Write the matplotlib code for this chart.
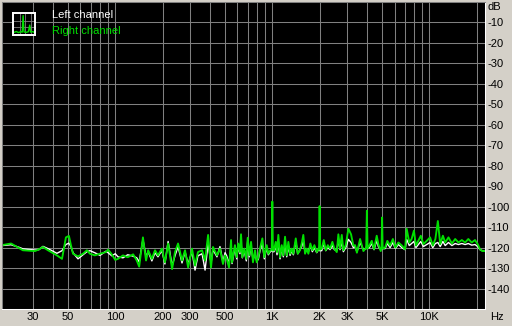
import matplotlib
matplotlib.use("Agg")
import matplotlib.pyplot as plt

plt.rcParams["font.family"] = ["Liberation Sans", "DejaVu Sans"]

# frequency points (Hz) and levels (dB)
freq = [19, 21.7, 24.7, 25.8, 30.8, 32.7, 34.6, 37.3, 42.5, 45.8,
        48.5, 50.7, 52.2, 53.8, 57.9, 62.3, 66, 69, 74, 80,
        87, 90, 95, 100, 104, 112, 120, 130, 137, 142,
        150, 157, 162, 171, 179, 187, 198, 207, 217, 230,
        240, 251, 266, 278, 291, 308, 322, 336, 357, 373,
        390, 407, 419, 444, 464, 485, 500, 512, 530, 546,
        554, 578, 593, 607, 622, 632, 644, 663, 683, 697,
        714, 732, 753, 776, 795, 814, 835, 864, 889, 921,
        943, 971, 992, 1000, 1008, 1025, 1051, 1071, 1092, 1120,
        1148, 1175, 1205, 1235, 1265, 1297, 1329, 1361, 1410, 1451,
        1500, 1538, 1575, 1616, 1656, 1696, 1746, 1798, 1852, 1918,
        1963, 1985, 2000, 2015, 2064, 2126, 2189, 2255, 2331, 2412,
        2484, 2573, 2633, 2699, 2768, 2833, 2934, 3050, 3171, 3281,
        3364, 3455, 3620, 3800, 3960, 4000, 4040, 4148, 4297, 4442,
        4621, 4732, 4899, 4960, 5000, 5040, 5221, 5398, 5618, 5857,
        6069, 6346, 6679, 7000, 7169, 7445, 7708, 7972, 8210, 8502,
        8817, 9160, 9626, 10100, 10510, 10920, 11320, 11720, 12190, 12610,
        13230, 13910, 14600, 15310, 16090, 16880, 17700, 18600, 19520, 20300,
        21000, 21730, 22600]

right_db = [-118.8, -118.0, -120.5, -121.3, -121.7, -120.8, -119.7, -121.3, -123.8, -125.5,
            -115.0, -114.3, -118.8, -123.0, -124.3, -123.0, -121.3, -123.0, -123.8, -123.0,
            -122.2, -121.0, -123.3, -126.0, -125.5, -123.8, -124.7, -123.3, -126.3, -129.3,
            -115.0, -126.3, -121.3, -125.5, -121.3, -123.8, -120.5, -127.2, -118.0, -130.5,
            -122.2, -118.0, -126.3, -121.3, -129.7, -120.5, -128.8, -122.2, -121.3, -126.3,
            -113.8, -129.7, -119.7, -123.8, -120.5, -128.0, -123.8, -125.5, -129.7, -116.3,
            -127.2, -118.8, -124.7, -118.0, -122.2, -113.5, -124.7, -120.5, -125.5, -115.2,
            -123.8, -117.2, -127.2, -121.3, -127.2, -124.7, -120.5, -115.5, -124.7, -118.8,
            -123.0, -121.3, -121.0, -97.5, -121.5, -121.3, -117.2, -122.2, -113.8, -124.7,
            -118.8, -123.8, -114.7, -123.8, -117.2, -123.0, -120.5, -123.0, -115.5, -123.0,
            -121.3, -118.0, -113.8, -123.0, -120.5, -123.0, -118.0, -121.3, -118.8, -122.2,
            -120.5, -121.0, -99.7, -121.0, -120.5, -116.3, -121.3, -118.8, -120.5, -117.2,
            -120.5, -122.2, -113.5, -120.5, -113.8, -121.3, -118.8, -110.8, -113.5, -119.0,
            -118.8, -122.5, -115.8, -121.7, -120.0, -102.0, -120.5, -119.0, -116.7, -120.8,
            -114.2, -118.3, -121.7, -120.0, -105.3, -120.5, -120.0, -116.7, -119.0, -115.8,
            -120.0, -117.5, -119.0, -120.8, -110.8, -117.5, -115.8, -111.7, -119.0, -116.7,
            -114.2, -118.3, -116.7, -115.0, -119.0, -115.8, -107.0, -118.3, -114.2, -117.5,
            -115.0, -118.0, -115.8, -117.5, -116.3, -117.5, -115.8, -117.5, -116.3, -118.3,
            -120.8, -121.7, -121.7]

left_db = [-119.0, -118.6, -120.0, -120.6, -121.2, -121.0, -119.4, -120.5, -122.8, -121.5,
           -118.5, -117.8, -119.5, -122.5, -125.5, -123.5, -122.0, -121.5, -122.5, -123.8,
           -121.8, -122.5, -124.0, -123.0, -124.5, -125.0, -123.5, -124.2, -125.0, -127.0,
           -116.0, -124.5, -122.0, -126.5, -122.5, -124.5, -121.5, -128.0, -117.0, -129.0,
           -124.0, -119.5, -127.5, -122.0, -128.0, -122.0, -131.0, -124.0, -123.0, -131.0,
           -118.0, -127.5, -121.0, -124.5, -119.5, -127.0, -122.5, -124.0, -128.0, -119.0,
           -127.8, -120.0, -125.5, -119.5, -123.0, -117.5, -125.0, -121.5, -126.5, -116.5,
           -124.5, -119.0, -126.0, -123.0, -126.5, -125.8, -121.5, -118.0, -125.5, -120.0,
           -123.5, -122.0, -121.5, -119.0, -122.0, -122.0, -119.0, -123.5, -117.0, -125.5,
           -120.0, -124.5, -117.5, -124.5, -119.5, -123.8, -121.5, -123.5, -117.0, -123.0,
           -121.0, -119.5, -116.5, -122.5, -121.0, -122.0, -119.0, -122.0, -120.0, -122.5,
           -121.0, -121.5, -119.0, -121.5, -121.5, -118.0, -121.5, -120.0, -121.0, -119.0,
           -121.0, -121.5, -116.0, -121.0, -117.0, -122.0, -120.0, -116.0, -117.5, -120.0,
           -119.5, -122.0, -117.5, -121.0, -120.5, -118.0, -120.5, -120.0, -118.0, -121.0,
           -116.5, -119.5, -121.0, -120.5, -118.5, -120.5, -120.5, -118.0, -120.0, -117.5,
           -120.5, -118.5, -120.0, -121.0, -116.0, -119.0, -118.0, -117.0, -120.0, -118.5,
           -117.0, -119.5, -118.5, -117.5, -120.0, -118.0, -117.5, -119.5, -117.0, -119.0,
           -117.5, -119.0, -118.0, -118.5, -118.0, -118.5, -118.0, -118.8, -118.5, -119.5,
           -121.0, -121.5, -121.8]

grid_freqs = [30, 40, 50, 60, 70, 80, 90, 100, 200, 300, 400, 500, 600, 700, 800, 900,
              1000, 2000, 3000, 4000, 5000, 6000, 7000, 8000, 9000, 10000, 20000]
x_labels = {30: "30", 50: "50", 100: "100", 200: "200", 300: "300", 500: "500",
            1000: "1K", 2000: "2K", 3000: "3K", 5000: "5K", 10000: "10K"}
y_ticks = list(range(-140, 0, 10))

# small legend icon trace
icon_x = [0.5, 1.5, 2.5, 3.5, 4.2, 4.6, 5.0, 6.0, 7.0, 7.6, 8.0, 9.0, 9.5]
icon_y = [1.2, 1.6, 1.1, 1.5, 1.3, 8.8, 1.4, 1.2, 1.5, 4.5, 1.3, 1.6, 1.2]

bg = "#d4d0c8"
fs = 8
fig = plt.figure(figsize=(5.12, 3.26), dpi=100, facecolor=bg)
ax = fig.add_axes([2 / 512, 17 / 326, 483 / 512, 307 / 326])
ax.set_facecolor("black")

ax.plot(freq, left_db, color="white", lw=1.0)
ax.plot(freq, right_db, color="#00e000", lw=1.35)

ax.set_xscale("log")
ax.set_xlim(19, 22600)
ax.set_ylim(-150, 0)

ax.set_xticks(grid_freqs)
ax.set_xticklabels([x_labels.get(f, "") for f in grid_freqs])
ax.xaxis.set_minor_locator(matplotlib.ticker.NullLocator())
ax.set_yticks(y_ticks)
ax.set_yticklabels([str(v) for v in y_ticks])
ax.yaxis.tick_right()
ax.tick_params(axis="both", length=0, labelsize=fs, colors="black")
ax.tick_params(axis="x", pad=2.5)
ax.tick_params(axis="y", pad=1.5)
for lab in ax.get_yticklabels():
    lab.set_horizontalalignment("left")
ax.grid(True, color="#808080", lw=0.75)
ax.set_axisbelow(True)

ax.spines["left"].set_color("#808080")
ax.spines["top"].set_color("#808080")
ax.spines["right"].set_color("white")
ax.spines["bottom"].set_color("white")
for s in ax.spines.values():
    s.set_linewidth(0.75)

fig.text(487 / 512, 1 - 7 / 326, "dB", fontsize=fs, va="center", ha="left")
fig.text(497 / 512, 1 - 317 / 326, "Hz", fontsize=fs, va="center", ha="center")

# legend
icon = fig.add_axes([13 / 512, 1 - 35 / 326, 22 / 512, 22 / 326])
icon.set_facecolor("black")
icon.set_xlim(0, 10)
icon.set_ylim(0, 10)
icon.set_xticks([])
icon.set_yticks([])
for gx in [3.0, 5.5, 8.0]:
    icon.axvline(gx, color="#808080", lw=0.6)
for gy in [3.5, 6.5]:
    icon.axhline(gy, color="#808080", lw=0.6)
icon.plot(icon_x, icon_y, color="#00e000", lw=1.0)
for s in icon.spines.values():
    s.set_color("white")
    s.set_linewidth(1.4)

fig.text(52 / 512, 1 - 15 / 326, "Left channel", color="white", fontsize=fs, va="center", ha="left")
fig.text(52 / 512, 1 - 31 / 326, "Right channel", color="#00e000", fontsize=fs, va="center", ha="left")

fig.savefig("out.png", dpi=100, facecolor=bg)
